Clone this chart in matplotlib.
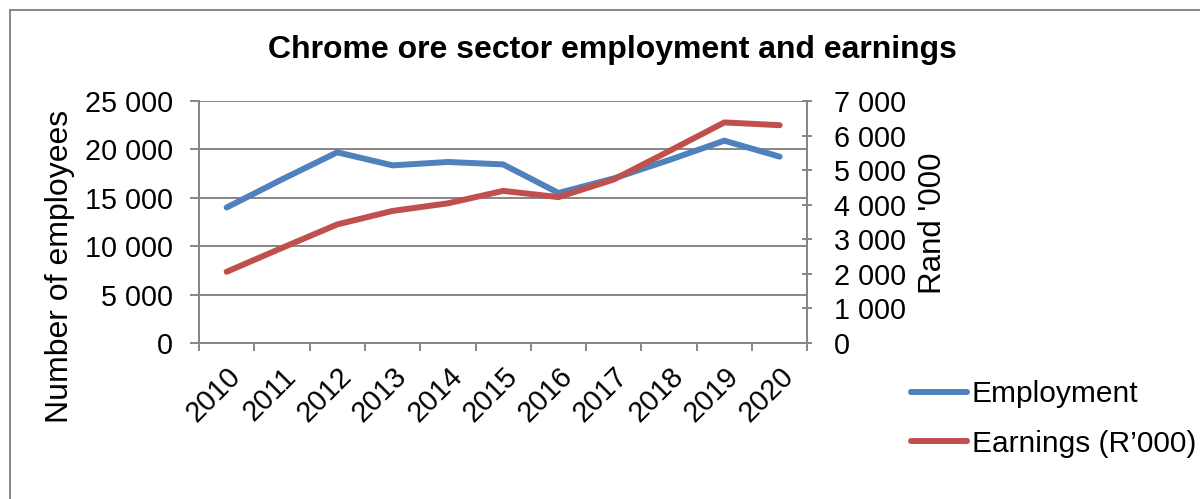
import numpy as np
import matplotlib.pyplot as plt
from matplotlib.lines import Line2D
from matplotlib.ticker import FuncFormatter, MultipleLocator
from matplotlib.transforms import ScaledTranslation

plt.rcParams['font.family'] = ['Liberation Sans', 'DejaVu Sans']

years = ['2010', '2011', '2012', '2013', '2014', '2015', '2016', '2017', '2018', '2019', '2020']
employment = [14000, 16900, 19700, 18350, 18700, 18450, 15500, 17000, 18900, 20900, 19250]
earnings = [2060, 2750, 3430, 3820, 4040, 4400, 4220, 4730, 5550, 6380, 6300]

BLUE = '#4F81BD'
RED = '#C0504D'
GREY = '#868686'
FS = 20.7


def thousands(v, pos):
    return f'{int(v):,}'.replace(',', ' ')


fig = plt.figure(figsize=(12, 4.99), dpi=100)
ax = fig.add_axes([199 / 1200, 156 / 499, 608.3 / 1200, 242 / 499])
ax2 = ax.twinx()

x = np.arange(len(years))
ax.plot(x, employment, color=BLUE, lw=4.3, solid_capstyle='round', solid_joinstyle='round', zorder=3)
ax2.plot(x, earnings, color=RED, lw=4.3, solid_capstyle='round', solid_joinstyle='round', zorder=3)

ax.set_xlim(-0.5, len(years) - 0.5)
ax.set_ylim(0, 25000)
ax2.set_ylim(0, 7000)
ax.yaxis.set_major_locator(MultipleLocator(5000))
ax2.yaxis.set_major_locator(MultipleLocator(1000))
ax.yaxis.set_major_formatter(FuncFormatter(thousands))
ax2.yaxis.set_major_formatter(FuncFormatter(thousands))

ax.grid(axis='y', color=GREY, lw=1.4)
ax.set_axisbelow(True)

for a in (ax, ax2):
    for s in a.spines.values():
        s.set_color(GREY)
        s.set_linewidth(1.4)
    a.spines['top'].set_visible(False)

# category labels at centres, tick marks on the boundaries
ax.set_xticks(x)
ax.set_xticklabels(years, rotation=45, ha='right', va='top', rotation_mode='anchor', fontsize=FS)
shift = ScaledTranslation(-6 / 100, 0, fig.dpi_scale_trans)
for lbl in ax.get_xticklabels():
    lbl.set_transform(lbl.get_transform() + shift)
ax.set_xticks(np.arange(len(years) + 1) - 0.5, minor=True)
ax.tick_params(axis='x', which='major', length=0, pad=14)
ax.tick_params(axis='x', which='minor', length=6, width=1.4, color=GREY)
ax.tick_params(axis='y', labelsize=FS, length=6.5, width=1.4, color=GREY, pad=12)
ax2.tick_params(axis='y', labelsize=FS, length=6.5, width=1.4, color=GREY, direction='inout', pad=16)

ax.set_ylabel('Number of employees', fontsize=23)
ax.yaxis.set_label_coords(-0.2038, 0.318)
ax2.set_ylabel("Rand '000", fontsize=22.5)
ax2.yaxis.set_label_coords(1.182, 0.496)

fig.text(612 / 1200, 1 - 50 / 499, 'Chrome ore sector employment and earnings',
         ha='center', va='center', fontsize=23, fontweight='bold')

handles = [Line2D([], [], color=BLUE, lw=4.3, solid_capstyle='round'),
           Line2D([], [], color=RED, lw=4.3, solid_capstyle='round')]
fig.legend(handles, ['Employment', 'Earnings (R\u2019000)'], loc='upper left',
           bbox_to_anchor=(911 / 1200, 1 - 380 / 499), frameon=False, fontsize=21.5,
           handlelength=1.87, handletextpad=0.17, labelspacing=0.73, borderaxespad=0,
           borderpad=0)

# chart border (left and top edges)
fig.add_artist(Line2D([10 / 1200, 10 / 1200], [0, 1 - 10 / 499], color=GREY, lw=1.4,
                      transform=fig.transFigure))
fig.add_artist(Line2D([10 / 1200, 1], [1 - 10 / 499, 1 - 10 / 499], color=GREY, lw=1.4,
                      transform=fig.transFigure))

fig.savefig('out.png', dpi=100)
